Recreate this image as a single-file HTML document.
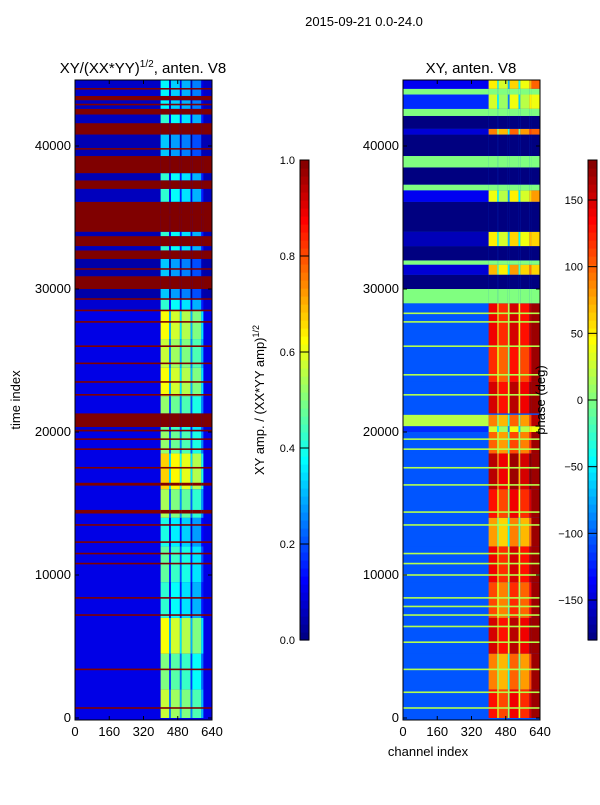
<!DOCTYPE html>
<html><head><meta charset="utf-8"><style>
html,body{margin:0;padding:0;background:#fff;}
svg text{font-family:"Liberation Sans",sans-serif;fill:#000;}
</style></head><body>
<svg id="fig" width="600" height="800" xmlns="http://www.w3.org/2000/svg">
<rect width="600" height="800" fill="#fff"/>
<text x="364" y="26" font-size="13" text-anchor="middle">2015-09-21 0.0-24.0</text>
<text x="143" y="73" font-size="15" text-anchor="middle">XY/(XX*YY)<tspan font-size="10" dy="-6">1/2</tspan><tspan dy="6">, anten. V8</tspan></text>
<text x="471" y="73" font-size="15" text-anchor="middle">XY, anten. V8</text>
<g id="amp"></g>
<g id="ph"></g>
<g id="axes"></g>
<text transform="translate(20,400) rotate(-90)" font-size="13" text-anchor="middle">time index</text>
<text x="428" y="756" font-size="13" text-anchor="middle">channel index</text>
<text transform="translate(264,400) rotate(-90)" font-size="13" text-anchor="middle">XY amp. / (XX*YY amp)<tspan font-size="9" dy="-5">1/2</tspan></text>
<text transform="translate(545,400) rotate(-90)" font-size="13" text-anchor="middle">phase (deg)</text>
</svg>
<script>
// ---- data ----
const timeTicks=[0,10000,20000,30000,40000];
const chanTicks=[0,160,320,480,640];
const ampCbTicks=[0.0,0.2,0.4,0.6,0.8,1.0];
const phaseCbTicks=[-150,-100,-50,0,50,100,150];
const midEdges=[400,440,448,490,498,540,548,590,600];
const ampColDelta=[0.12,-0.2,0.08,-0.15,0.05,-0.2,0.0,-0.15];
const phaseColDelta=[30,-40,10,-90,40,-60,20,50];
// [t0,t1,left,mid,right]
const ampBands=[
[0,2000,0.1,0.45,0.1],[2000,4500,0.1,0.38,0.1],[4500,7000,0.1,0.5,0.1],[7000,9500,0.1,0.3,0.1],
[9500,12000,0.1,0.35,0.1],[12000,14000,0.1,0.28,0.1],[14000,16000,0.1,0.42,0.1],[16000,18500,0.1,0.55,0.1],
[18500,20000,0.1,0.4,0.1],[21300,22500,0.1,0.4,0.1],[22500,24500,0.1,0.5,0.1],[24500,26500,0.1,0.45,0.1],
[26500,28500,0.1,0.5,0.1],[28500,29300,0.08,0.3,0.08],[29300,30000,0.04,0.2,0.04],
[30000,30900,1,1,1],[30900,32100,0.04,0.2,0.04],[32100,32700,1,1,1],[32700,33000,0.06,0.3,0.06],
[33000,33700,1,1,1],[33700,34000,0.05,0.3,0.05],[34000,36100,1,1,1],[36100,37000,0.06,0.3,0.06],
[37000,37600,1,1,1],[37600,38100,0.05,0.3,0.05],[38100,39300,1,1,1],[39300,40800,0.05,0.2,0.05],
[40800,41600,1,1,1],[41600,42200,0.06,0.3,0.06],[42200,42600,1,1,1],[42600,43200,0.06,0.25,0.06],
[43200,43500,1,1,1],[43500,44700,0.07,0.25,0.07],
[20000,20350,0.08,0.35,0.08],[20350,21300,1,1,1],[14300,14550,1,1,1],[16250,16450,1,1,1]
];
const ampLines=[700,3400,7200,8400,10800,11500,12300,13500,17500,18800,19500,20100,22600,23500,24800,26000,27700,28500,29300,31400,35200,39800,42900,44000];
const phaseBands=[
[0,2000,-105,100,170],[2000,4500,-105,60,170],[4500,7000,-105,120,170],[7000,9500,-105,80,170],
[9500,12000,-105,110,170],[12000,14000,-105,50,170],[14000,16000,-105,100,170],[16000,18500,-105,130,170],
[18500,20000,-105,70,170],[21300,23500,-105,120,170],[23500,26000,-105,90,170],[26000,29000,-105,110,170],
[29000,30000,0,0,0],[30000,31000,-180,-180,-180],[31000,31700,-150,40,60],
[31700,32000,0,0,0],[32000,33000,-180,-180,-180],[33000,34000,-160,20,60],[34000,36100,-180,-180,-180],
[36100,36900,-140,10,80],[36900,37300,0,0,0],[37300,38500,-180,-180,-180],[38500,39300,0,0,0],
[39300,40800,-180,-180,-180],[40800,41200,-150,60,100],[41200,42100,-180,-180,-180],[42100,42600,0,0,0],
[42600,43600,-120,0,40],[43600,44000,0,0,0],[44000,44700,-140,20,100],
[20400,21200,20,60,160],[20000,20400,-120,0,40]
];
const phaseLines=[700,1800,3400,5300,6400,7200,7800,8400,10000,10800,11500,13500,14400,16300,17500,18800,19500,22600,24000,26000,27700,28300];
// ---- scales ----
const Y0=718,K=572/40000;
const ty=t=>Y0-t*K;
const cx=(x0,c)=>x0+c*137/640;
const cl=v=>Math.max(0,Math.min(1,v));
function jet(v){v=cl(v);const r=cl(1.5-Math.abs(4*v-3)),g=cl(1.5-Math.abs(4*v-2)),b=cl(1.5-Math.abs(4*v-1));return `rgb(${Math.round(r*255)},${Math.round(g*255)},${Math.round(b*255)})`;}
const NS="http://www.w3.org/2000/svg";
function R(p,x,y,w,h,f,name){const r=document.createElementNS(NS,'rect');r.setAttribute('x',x);r.setAttribute('y',y);r.setAttribute('width',w);r.setAttribute('height',Math.max(h,0.5));r.setAttribute('fill',f);


p.appendChild(r);return r;}
function T(p,x,y,s,a,name){const t=document.createElementNS(NS,'text');t.setAttribute('x',x);t.setAttribute('y',y);t.setAttribute('font-size',a.fs||13);t.setAttribute('text-anchor',a.anc||'middle');t.textContent=s;


p.appendChild(t);}
function drawBand(g,x0,b,norm,delta,prefix){
 const [t0,t1,l,m,r]=b;const top=Math.max(ty(t1),80),bot=ty(t0);
 R(g,cx(x0,0),top,cx(x0,400)-cx(x0,0),bot-top,jet(norm(l)),prefix+'-left');
 for(let i=0;i<midEdges.length-1;i++){const v=(m===l&&m===r)?m:m+delta[i];
  R(g,cx(x0,midEdges[i]),top,cx(x0,midEdges[i+1])-cx(x0,midEdges[i]),bot-top,jet(norm(v)),prefix+'-mid');}
 R(g,cx(x0,600),top,cx(x0,640)-cx(x0,600),bot-top,jet(norm(r)),prefix+'-right');
}
const ga=document.getElementById('amp'),gp=document.getElementById('ph'),ax=document.getElementById('axes');
const na=v=>v, np=v=>(v+180)/360;
R(ga,75,80,137,640,jet(0.1),'amp-bg');
ampBands.forEach(b=>drawBand(ga,75,b,na,ampColDelta,'amp-cell'));
ampLines.forEach(t=>R(ga,75,ty(t)-0.8,137,1.6,jet(1),'amp-line'));
R(gp,403,80,137,640,jet(np(-105)),'phase-bg');
phaseBands.forEach(b=>drawBand(gp,403,b,np,phaseColDelta,'phase-cell'));
phaseLines.forEach(t=>R(gp,403,ty(t)-0.8,137,1.6,jet(0.55),'phase-line'));
// axes frames & ticks
[75,403].forEach((x0,k)=>{
 const f=R(ax,x0,80,137,640,'none','plot-frame-'+k);f.setAttribute('stroke','#000');f.setAttribute('stroke-width','1');
 timeTicks.forEach(t=>{R(ax,x0,ty(t)-0.5,4,1,'#000','y-tick');R(ax,x0+133,ty(t)-0.5,4,1,'#000','y-tick');T(ax,x0-4,ty(t)+4,String(t),{anc:'end'},'y-tick-label');});
 chanTicks.forEach(c=>{R(ax,cx(x0,c)-0.5,716,1,4,'#000','x-tick');R(ax,cx(x0,c)-0.5,80,1,4,'#000','x-tick');T(ax,cx(x0,c),736,String(c),{},'x-tick-label');});
});
// colorbars
function cbar(x,ticks,lo,hi,name,fmt){
 const n=60,h=480;for(let i=0;i<n;i++){R(ax,x,160+h-(i+1)*h/n,9,h/n+0.6,jet((i+0.5)/n),name+'-segment');}
 const f=R(ax,x,160,9,480,'none',name+'-frame');f.setAttribute('stroke','#000');
 ticks.forEach(v=>{const y=640-(v-lo)/(hi-lo)*480;R(ax,x,y-0.5,9,1,'#000',name+'-tick');T(ax,x-5,y+4,fmt(v),{fs:11,anc:'end'},name+'-tick-label');});
}
cbar(300,ampCbTicks,0,1,'amp-colorbar',v=>v.toFixed(1));
cbar(588,phaseCbTicks,-180,180,'phase-colorbar',v=>v<0?'\u2212'+(-v):String(v));
</script>
</body></html>
